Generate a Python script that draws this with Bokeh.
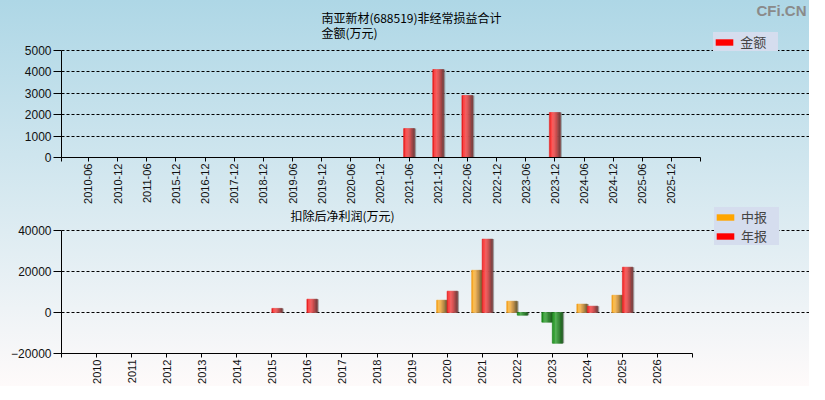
from math import pi
from bokeh.plotting import figure
from bokeh.layouts import column
from bokeh.models import ColumnDataSource, FixedTicker, Label, Legend, LegendItem, Range1d
from bokeh.embed import file_html
from bokeh.resources import INLINE

# 非经常损益合计 (万元)
periods = ["2010-06", "2010-12", "2011-06", "2015-12", "2016-12", "2017-12", "2018-12",
           "2019-06", "2019-12", "2020-06", "2020-12", "2021-06", "2021-12", "2022-06",
           "2022-12", "2023-06", "2023-12", "2024-06", "2024-12", "2025-06", "2025-12"]
amount = [None, None, None, None, None, None, None, None, None, None, None,
          1350, 4110, 2900, None, None, 2100, None, None, None, None]

# 扣除后净利润 (万元)
years = ["2010", "2011", "2012", "2013", "2014", "2015", "2016", "2017", "2018",
         "2019", "2020", "2021", "2022", "2023", "2024", "2025", "2026"]
mid_report = [None, None, None, None, None, None, None, None, None, None,
              6000, 20600, 5500, -4700, 4100, 8400, None]
annual_report = [None, None, None, None, None, 2000, 6500, None, None, None,
                 10400, 35800, -1300, -15000, 3100, 22100, None]

amount_ticks = [0, 1000, 2000, 3000, 4000, 5000]
profit_ticks = [-20000, 0, 20000, 40000]

RED = ["#e82424", "#ff4848", "#f65c5c", "#e45a5a", "#cc4e4e", "#a84646", "#804040"]
ORANGE = ["#f2a020", "#ffbe48", "#f4b858", "#e0a650", "#c89448", "#a47e40", "#7e6638"]
GREEN = ["#1c861c", "#38a438", "#52ae52", "#46a046", "#368c36", "#2a7a2a", "#226222"]

CJK = "Noto Sans CJK SC"
LATIN = "Liberation Sans"


def draw_bars(p, vals, offset, width, pos_pal, neg_pal, shift):
    idx = [i for i, v in enumerate(vals) if v is not None]
    tops = [vals[i] for i in idx]
    # soft shadow on the right side
    p.vbar(x=[i + offset + shift for i in idx], top=tops, bottom=0, width=width,
           fill_color="#707070", fill_alpha=0.55, line_color=None)
    k = len(pos_pal)
    for j in range(k):
        xs = [i + offset - width / 2 + (j + 0.5) * width / k for i in idx]
        cols = [pos_pal[j] if v >= 0 else neg_pal[j] for v in tops]
        src = ColumnDataSource(data=dict(x=xs, top=tops, color=cols))
        p.vbar(x="x", top="top", bottom=0, width=width / k, source=src,
               fill_color="color", line_color="color", line_width=0.6)


def style(p, ticks_x, labels_x, ticks_y, xb, yb):
    p.xgrid.visible = False
    p.ygrid.grid_line_color = "black"
    p.ygrid.grid_line_dash = "3 2"
    p.ygrid.grid_line_width = 1
    p.ygrid.ticker = FixedTicker(ticks=ticks_y)
    p.ygrid.bounds = xb
    p.yaxis.ticker = FixedTicker(ticks=ticks_y)
    p.yaxis.bounds = yb
    p.xaxis.ticker = FixedTicker(ticks=ticks_x)
    p.xaxis.major_label_overrides = labels_x
    p.xaxis.bounds = xb
    for ax in (p.xaxis, p.yaxis):
        ax.axis_line_color = "black"
        ax.axis_line_width = 1
        ax.major_tick_line_color = "black"
        ax.major_tick_in = 0
        ax.minor_tick_line_color = None
        ax.major_label_text_font = LATIN
        ax.major_label_text_color = "#111111"
    p.xaxis.major_tick_out = 4
    p.xaxis.major_label_standoff = 2
    p.xaxis.major_label_orientation = pi / 2
    p.xaxis.major_label_text_font_size = "11px"
    p.yaxis.major_tick_out = 8
    p.yaxis.major_label_standoff = 2
    p.yaxis.major_label_text_font_size = "12px"


def text(p, x, y, t, size="12px", font=CJK, align="center", color="#000000", style="normal"):
    p.add_layout(Label(x=x, y=y, x_units="screen", y_units="screen", text=t,
                       text_font=font, text_font_size=size, text_align=align,
                       text_baseline="middle", text_color=color, text_font_style=style))


def legend(p, entries, loc):
    items = []
    for name, color in entries:
        # zero-height bar, only there to give the legend its swatch
        r = p.vbar(x=[0], top=[0], bottom=0, width=0.3, fill_color=color, line_color=None)
        items.append(LegendItem(label=name, renderers=[r]))
    lg = Legend(items=items, location=loc, orientation="vertical", padding=5, margin=0,
                spacing=0, glyph_width=22, glyph_height=8, label_width=38, label_height=14,
                label_standoff=5, label_text_font=CJK, label_text_font_size="13px",
                label_text_baseline="middle",
                background_fill_color="#d5ddee", background_fill_alpha=1,
                border_line_color=None)
    p.add_layout(lg)


common = dict(toolbar_location=None, output_backend="svg", border_fill_alpha=0,
              background_fill_alpha=0, outline_line_color=None, min_border_right=0,
              min_border_top=0)

# top chart: frame covers the title/legend area too; axis and grid are bounded
top_h, top_b = 157, 50
px1 = 29.15                       # pixels per category
x0, xe, x1 = -0.926, 21.0, (817 - 88) / px1
ymax1 = 5000 / 107 * top_h
p1 = figure(frame_width=756, frame_height=top_h, min_border_left=53, min_border_bottom=top_b,
            x_range=Range1d(x0, x1), y_range=Range1d(0, ymax1), **common)
draw_bars(p1, amount, 0, 0.38, RED, GREEN, 0.05)
lab1 = {i: s for i, s in enumerate(periods)}
lab1[x0] = ""
lab1[xe] = ""
style(p1, [x0] + list(range(len(periods))) + [xe], lab1, amount_ticks, (x0, xe), (0, 5000))
legend(p1, [("金额", "#ff0000")], (669, 106))
text(p1, 350, 140, "南亚新材(688519)非经常损益合计")
text(p1, 288, 125, "金额(万元)")
text(p1, 745, 147, "CFi.CN", size="15px", font=LATIN, align="right", color="#8a8a8a", style="bold")

# bottom chart
bot_top = top_h + top_b
bot_h = 353 - bot_top
px2 = 35.06
z0, ze, z1 = -1.0, 17.0, (817 - 104) / px2
ymin2 = -20000
ymax2 = ymin2 + 60000 / 123 * bot_h
p2 = figure(frame_width=748, frame_height=bot_h, min_border_left=61, min_border_bottom=31,
            x_range=Range1d(z0, z1), y_range=Range1d(ymin2, ymax2), **common)
draw_bars(p2, mid_report, -0.15, 0.3, ORANGE, GREEN, 0.04)
draw_bars(p2, annual_report, 0.15, 0.3, RED, GREEN, 0.04)
lab2 = {i: s for i, s in enumerate(years)}
lab2[z0] = ""
lab2[ze] = ""
style(p2, [z0] + list(range(len(years))) + [ze], lab2, profit_ticks, (z0, ze), (-20000, 40000))
legend(p2, [("中报", "#ffa500"), ("年报", "#ff0000")], (653, 108))
text(p2, 281, 138, "扣除后净利润(万元)")

layout = column(p1, p2, spacing=0,
                styles={"background": "linear-gradient(to bottom, #aed7e6, #fefafa)"})

open("out.html", "w").write(file_html(layout, INLINE))
